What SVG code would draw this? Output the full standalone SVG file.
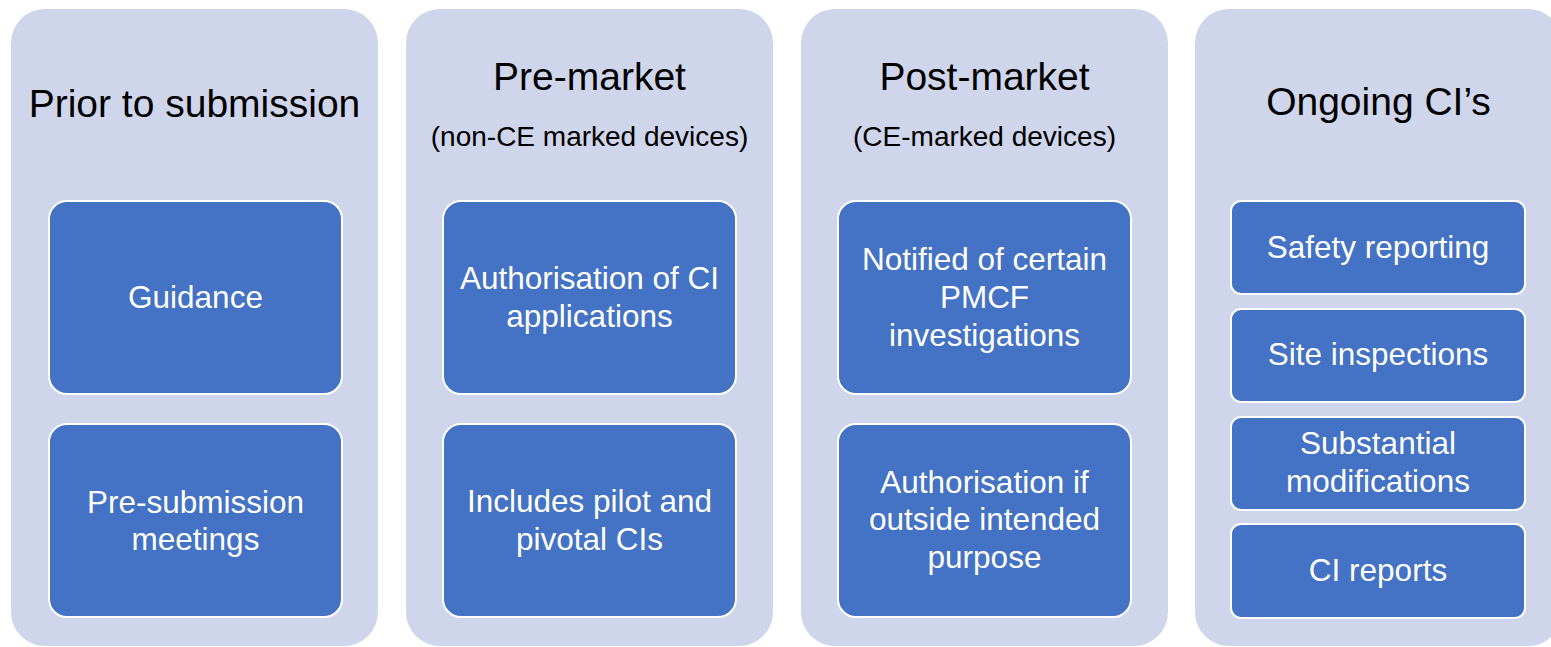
<svg xmlns="http://www.w3.org/2000/svg" width="1551" height="647" viewBox="0 0 1551 647">
  <style>
    .panel { fill: #CFD5EA; }
    .box { fill: #4472C4; stroke: #FFFFFF; stroke-width: 2; }
    .title { font-family: "Liberation Sans", Arial, sans-serif; font-size: 39px; fill: #000000; text-anchor: middle; }
    .sub { font-family: "Liberation Sans", Arial, sans-serif; font-size: 28px; fill: #000000; text-anchor: middle; }
    .label { font-family: "Liberation Sans", Arial, sans-serif; font-size: 31.5px; fill: #FFFFFF; text-anchor: middle; }
  </style>
  <rect width="1551" height="647" fill="#FFFFFF"/>

  <!-- Column 1: prior to submission -->
  <g id="col-prior">
    <rect class="panel" x="11" y="9" width="367" height="637" rx="34"/>
    <text class="title" x="194.5" y="117">Prior to submission</text>
  </g>
  <g id="node-guidance">
    <rect class="box" x="49" y="201" width="293" height="193" rx="18"/>
    <text class="label" x="195.5" y="308">Guidance</text>
  </g>
  <g id="node-presubmission">
    <rect class="box" x="49" y="424" width="293" height="193" rx="18"/>
    <text class="label" x="195.5" y="513">Pre-submission</text>
    <text class="label" x="195.5" y="550">meetings</text>
  </g>

  <!-- Column 2: pre-market -->
  <g id="col-premarket">
    <rect class="panel" x="406" y="9" width="367" height="637" rx="34"/>
    <text class="title" x="589.5" y="90">Pre-market</text>
    <text class="sub" x="589.5" y="146">(non-CE marked devices)</text>
  </g>
  <g id="node-authorisation">
    <rect class="box" x="443" y="201" width="293" height="193" rx="18"/>
    <text class="label" x="589.5" y="289">Authorisation of CI</text>
    <text class="label" x="589.5" y="327">applications</text>
  </g>
  <g id="node-pilot">
    <rect class="box" x="443" y="424" width="293" height="193" rx="18"/>
    <text class="label" x="589.5" y="512">Includes pilot and</text>
    <text class="label" x="589.5" y="550">pivotal CIs</text>
  </g>

  <!-- Column 3: post-market -->
  <g id="col-postmarket">
    <rect class="panel" x="801" y="9" width="367" height="637" rx="34"/>
    <text class="title" x="984.5" y="90">Post-market</text>
    <text class="sub" x="984.5" y="146">(CE-marked devices)</text>
  </g>
  <g id="node-pmcf">
    <rect class="box" x="838" y="201" width="293" height="193" rx="18"/>
    <text class="label" x="984.5" y="270">Notified of certain</text>
    <text class="label" x="984.5" y="308">PMCF</text>
    <text class="label" x="984.5" y="346">investigations</text>
  </g>
  <g id="node-outside">
    <rect class="box" x="838" y="424" width="293" height="193" rx="18"/>
    <text class="label" x="984.5" y="493">Authorisation if</text>
    <text class="label" x="984.5" y="530">outside intended</text>
    <text class="label" x="984.5" y="568">purpose</text>
  </g>

  <!-- Column 4: ongoing CIs -->
  <g id="col-ongoing">
    <rect class="panel" x="1195" y="9" width="367" height="637" rx="34"/>
    <text class="title" x="1378.5" y="115">Ongoing CI’s</text>
  </g>
  <g id="node-safety">
    <rect class="box" x="1231" y="201" width="294" height="93" rx="10"/>
    <text class="label" x="1378" y="258">Safety reporting</text>
  </g>
  <g id="node-site">
    <rect class="box" x="1231" y="309" width="294" height="93" rx="10"/>
    <text class="label" x="1378" y="365">Site inspections</text>
  </g>
  <g id="node-modifications">
    <rect class="box" x="1231" y="417" width="294" height="93" rx="10"/>
    <text class="label" x="1378" y="454">Substantial</text>
    <text class="label" x="1378" y="492">modifications</text>
  </g>
  <g id="node-reports">
    <rect class="box" x="1231" y="524" width="294" height="94" rx="10"/>
    <text class="label" x="1378" y="581">CI reports</text>
  </g>

  <g id="connectors"/>
</svg>
